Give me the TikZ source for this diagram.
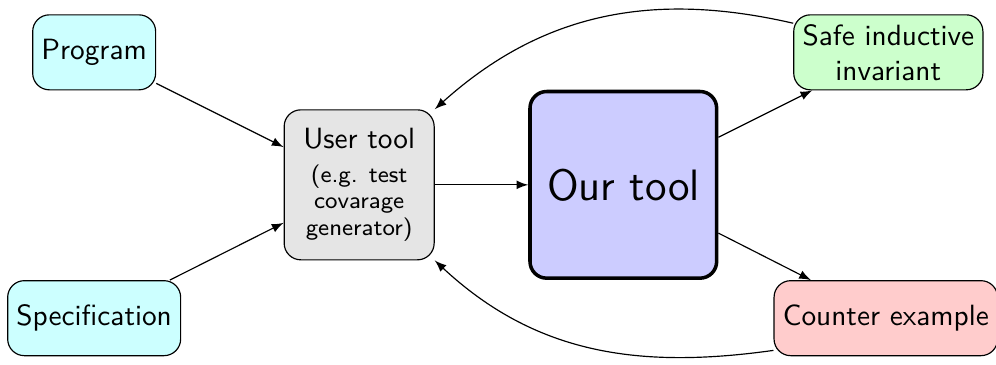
\documentclass[tikz,border=0pt]{standalone}
\usepackage{tikz}
\usetikzlibrary{shapes,arrows,positioning}

\definecolor{inputcol}{RGB}{204,255,255}

\begin{document}
\begin{tikzpicture}[>=latex]
				\tikzstyle{Box}		= [draw, rounded corners=2mm, font=\sffamily, align=center, inner sep=3pt, minimum height=9mm]
				\tikzstyle{Input}	= [Box, fill=inputcol]
				\tikzstyle{User}	= [Box, fill=black!10, minimum size=18mm]
				\tikzstyle{Ours}	= [Box, fill=blue!20, very thick, minimum size=22.4mm, font=\sffamily\fontsize{15}{18}\selectfont]
				\tikzstyle{Safe}	= [Box, fill=green!20]
				\tikzstyle{Cex}		= [Box, fill=red!20]
				\tikzstyle{Flow}	= [->, thin]

				\useasboundingbox (0,0) rectangle (11.952,4.368);

				\node (prog) at (1.13,3.74) [Input] {Program};
				\node (spec) at (1.13,0.55) [Input] {Specification};
				\node (user) at (4.31,2.15) [User] {User tool\\[-0.5pt]\footnotesize (e.g. test\\[-3pt]\footnotesize covarage\\[-3pt]\footnotesize generator)};
				\node (ours) at (7.48,2.15) [Ours] {Our tool};
				\node (inv) at (10.66,3.74) [Safe] {Safe inductive\\invariant};
				\node (cex) at (10.63,0.55) [Cex] {Counter example};

				\draw[Flow] (prog) -- (user);
				\draw[Flow] (spec) -- (user);
				\draw[Flow] (user) -- (ours);
				\draw[Flow] (ours) -- (inv);
				\draw[Flow] (ours) -- (cex);
				\draw[Flow] (inv.163) to[out=167, in=42, looseness=1] (user.north east);
				\draw[Flow] (cex.196) to[out=188, in=-43, looseness=1] (user.south east);

			\end{tikzpicture}
\end{document}
